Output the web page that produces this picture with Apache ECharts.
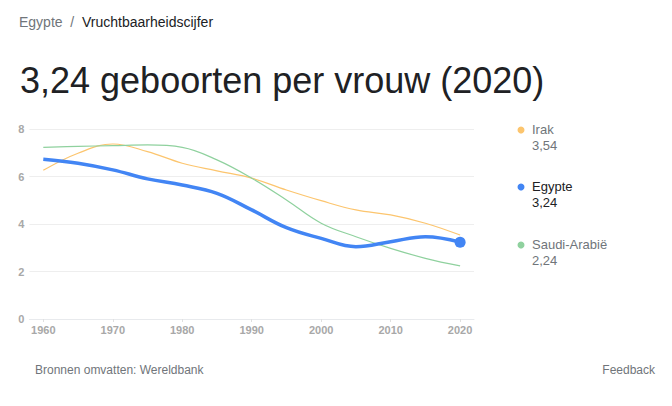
<!DOCTYPE html>
<html>
<head>
<meta charset="utf-8">
<script src="https://cdn.jsdelivr.net/npm/echarts@6/dist/echarts.min.js"></script>
<style>
  html, body { margin: 0; padding: 0; width: 672px; height: 406px; overflow: hidden; background: #fff; font-family: "Liberation Sans", Arial, sans-serif; }
  #chart { position: absolute; left: 0; top: 0; width: 672px; height: 406px; }
  .t { position: absolute; white-space: nowrap; }
  #crumb { left: 19px; top: 15px; font-size: 14px; line-height: 14px; color: #70757a; }
  #crumb b { font-weight: normal; color: #202124; }
  #title { left: 20px; top: 63px; font-size: 36px; line-height: 36px; color: #202124; }
  #src { left: 35px; top: 364px; font-size: 12px; line-height: 12px; color: #70757a; }
  #fb { right: 17px; top: 364px; font-size: 12px; line-height: 12px; color: #70757a; }
</style>
</head>
<body>
<div id="chart"></div>
<div class="t" id="crumb">Egypte&nbsp; / &nbsp;<b>Vruchtbaarheidscijfer</b></div>
<div class="t" id="title">3,24 geboorten per vrouw (2020)</div>
<div class="t" id="src">Bronnen omvatten: Wereldbank</div>
<div class="t" id="fb">Feedback</div>
<script>
const years = [1960, 1965, 1970, 1975, 1980, 1985, 1990, 1995, 2000, 2005, 2010, 2015, 2020];
const irak = [6.27, 6.99, 7.38, 7.06, 6.57, 6.25, 5.94, 5.44, 4.99, 4.60, 4.39, 4.04, 3.54];
const egypte = [6.74, 6.57, 6.29, 5.91, 5.65, 5.30, 4.60, 3.85, 3.40, 3.05, 3.26, 3.47, 3.24];
const saudi = [7.24, 7.28, 7.31, 7.34, 7.24, 6.71, 5.94, 5.02, 4.04, 3.47, 2.98, 2.56, 2.24];
const xTicks = [1960, 1970, 1980, 1990, 2000, 2010, 2020];
const yTicks = [0, 2, 4, 6, 8];
const seriesNames = ['Irak', 'Egypte', 'Saudi-Arabië'];
const colors = ['#fcc56e', '#4285f4', '#8fd19e'];

const fmt = v => v.toFixed(2).replace('.', ',');
const pairs = arr => years.map((y, i) => [y, arr[i]]);
const allSeries = [irak, egypte, saudi];

const chart = echarts.init(document.getElementById('chart'), null, { renderer: 'svg' });

const legendTops = [130, 187, 245];
const graphic = [];
seriesNames.forEach((n, i) => {
  const last = allSeries[i][allSeries[i].length - 1];
  const txtColor = i === 1 ? '#202124' : '#70757a';
  graphic.push({ type: 'circle', shape: { cx: 521, cy: legendTops[i], r: 3.5 }, style: { fill: colors[i] } });
  graphic.push({ type: 'text', left: 532, top: legendTops[i] - 7, style: { text: n, fill: txtColor, font: '13px "Liberation Sans", Arial, sans-serif' } });
  graphic.push({ type: 'text', left: 532, top: legendTops[i] + 9, style: { text: fmt(last), fill: txtColor, font: '13px "Liberation Sans", Arial, sans-serif' } });
});

chart.setOption({
  animation: false,
  grid: { left: 29.4, right: 198, top: 129.3, bottom: 87 },
  xAxis: {
    type: 'value', min: 1958, max: 2022,
    axisLine: { show: true, lineStyle: { color: '#e8eaed', width: 1 } },
    axisTick: { show: true, customValues: xTicks, length: 3, lineStyle: { color: '#e0e0e0' } },
    axisLabel: { customValues: xTicks, formatter: v => String(v), color: '#a8a8a8', fontSize: 11, fontWeight: 'bold', margin: 5, fontFamily: '"Liberation Sans", Arial, sans-serif' },
    splitLine: { show: false }
  },
  yAxis: {
    type: 'value', min: 0, max: 8, interval: 2,
    axisLine: { show: false }, axisTick: { show: false },
    axisLabel: { color: '#a8a8a8', fontSize: 11, fontWeight: 'bold', margin: 5, fontFamily: '"Liberation Sans", Arial, sans-serif',
      formatter: v => yTicks.includes(v) ? String(v) : '' },
    splitLine: { lineStyle: { color: '#eeeeee', width: 1 } }
  },
  graphic: graphic,
  series: [
    { name: seriesNames[0], type: 'line', data: pairs(irak), smooth: 0.4, showSymbol: false, z: 2,
      lineStyle: { color: colors[0], width: 1.2 } },
    { name: seriesNames[2], type: 'line', data: pairs(saudi), smooth: 0.4, showSymbol: false, z: 2,
      lineStyle: { color: colors[2], width: 1.2 } },
    { name: seriesNames[1], type: 'line', data: pairs(egypte), smooth: 0.4, z: 3,
      showSymbol: true, symbol: 'circle',
      symbolSize: (v, p) => p.dataIndex === years.length - 1 ? 11 : 0,
      itemStyle: { color: colors[1] },
      lineStyle: { color: colors[1], width: 3.5 } }
  ]
});
</script>
</body>
</html>
